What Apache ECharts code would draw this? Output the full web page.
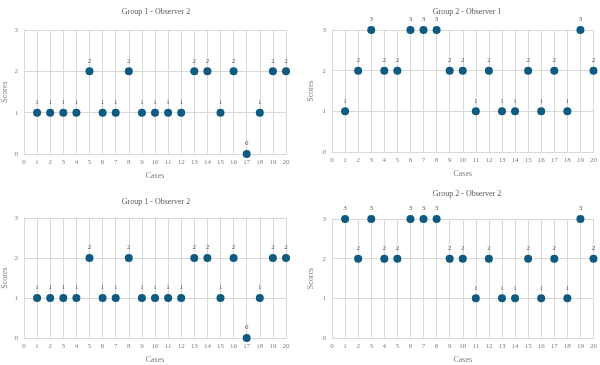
<!DOCTYPE html>
<html>
<head>
<meta charset="utf-8">
<script src="https://cdn.jsdelivr.net/npm/echarts@6/dist/echarts.min.js"></script>
<style>
  html, body { margin: 0; padding: 0; background: #fff; }
  #main { width: 600px; height: 365px; }
</style>
</head>
<body>
<div id="main"></div>
<script>
  // cases 1..20
  var cases = [1, 2, 3, 4, 5, 6, 7, 8, 9, 10, 11, 12, 13, 14, 15, 16, 17, 18, 19, 20];
  var xTicks = [0, 1, 2, 3, 4, 5, 6, 7, 8, 9, 10, 11, 12, 13, 14, 15, 16, 17, 18, 19, 20];
  var yTicks = [0, 1, 2, 3];

  var titles = ['Group 1 - Observer 2', 'Group 2 - Observer 1', 'Group 1 - Observer 2', 'Group 2 - Observer 2'];
  var g1o2Top = [1, 1, 1, 1, 2, 1, 1, 2, 1, 1, 1, 1, 2, 2, 1, 2, 0, 1, 2, 2];
  var g2o1 = [1, 2, 3, 2, 2, 3, 3, 3, 2, 2, 1, 2, 1, 1, 2, 1, 2, 1, 3, 2];
  var g1o2Bottom = [1, 1, 1, 1, 2, 1, 1, 2, 1, 1, 1, 1, 2, 2, 1, 2, 0, 1, 2, 2];
  var g2o2 = [3, 2, 3, 2, 2, 3, 3, 3, 2, 2, 1, 2, 1, 1, 2, 1, 2, 1, 3, 2];
  var panels = [g1o2Top, g2o1, g1o2Bottom, g2o2];

  var font = 'Liberation Serif';
  var textCol = '#7f7f7f';
  var lineCol = '#d9d9d9';

  // plot areas of the four panels
  var grids = [
    { left: 22, top: 30, width: 264, height: 124 },
    { left: 332, top: 30, width: 265, height: 122 },
    { left: 22, top: 218, width: 264, height: 124 },
    { left: 332, top: 219, width: 265, height: 120 }
  ];
  var titlePos = [[156, 8], [467, 8], [156, 198], [467, 190]];

  var chart = echarts.init(document.getElementById('main'));

  var option = {
    animation: false,
    title: titles.map(function (t, i) {
      return {
        text: t,
        left: titlePos[i][0],
        top: titlePos[i][1],
        padding: 0,
        textAlign: 'center',
        textStyle: { fontFamily: font, fontSize: 8, fontWeight: 'normal', color: '#595959' }
      };
    }),
    grid: grids,
    xAxis: grids.map(function (g, i) {
      return {
        gridIndex: i,
        type: 'value',
        min: xTicks[0],
        max: xTicks[xTicks.length - 1],
        interval: 1,
        name: 'Cases',
        nameLocation: 'middle',
        nameGap: 18,
        nameTextStyle: { fontFamily: font, fontSize: 8, color: textCol },
        axisLine: { lineStyle: { color: lineCol } },
        axisTick: { show: false },
        axisLabel: { fontFamily: font, fontSize: 7, color: textCol, margin: 5 },
        splitLine: { show: true, lineStyle: { color: lineCol, width: 1 } }
      };
    }),
    yAxis: grids.map(function (g, i) {
      return {
        gridIndex: i,
        type: 'value',
        min: yTicks[0],
        max: yTicks[yTicks.length - 1],
        interval: 1,
        name: 'Scores',
        nameLocation: 'middle',
        nameGap: i % 2 === 0 ? 15 : 17,
        nameTextStyle: { fontFamily: font, fontSize: 8, color: textCol },
        axisLine: { show: true, lineStyle: { color: lineCol } },
        axisTick: { show: false },
        axisLabel: { fontFamily: font, fontSize: 7, color: textCol, margin: 6 },
        splitLine: { show: true, lineStyle: { color: lineCol, width: 1 } }
      };
    }),
    series: panels.map(function (vals, i) {
      return {
        type: 'scatter',
        xAxisIndex: i,
        yAxisIndex: i,
        symbolSize: 8,
        clip: false,
        itemStyle: { color: '#0f5a80', opacity: 1 },
        label: {
          show: true,
          position: 'top',
          distance: 3,
          fontFamily: font,
          fontSize: 7,
          color: '#595959',
          formatter: function (p) { return p.value[1]; }
        },
        data: cases.map(function (c, k) { return [c, vals[k]]; })
      };
    })
  };

  chart.setOption(option);
</script>
</body>
</html>
